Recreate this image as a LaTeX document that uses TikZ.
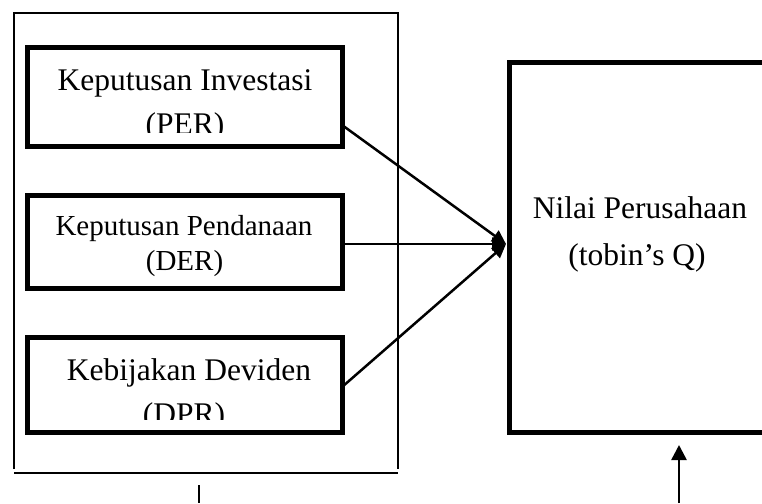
\documentclass[tikz,border=0pt]{standalone}
\usepackage{fontspec}
\setmainfont{Liberation Serif}
\usetikzlibrary{arrows.meta}
\begin{document}
\begin{tikzpicture}[x=1pt,y=-1pt,
  varbox/.style={draw,line width=5pt,minimum width=315pt,inner sep=0pt},
  bigtext/.style={font=\fontsize{31.5}{38}\selectfont,anchor=base,inner sep=0pt},
  midtext/.style={font=\fontsize{29}{35}\selectfont,anchor=base,inner sep=0pt},
  conn/.style={line width=2.5pt,-{Triangle[length=14pt,width=13pt]}},
  outline/.style={line width=1.6pt}]
\clip (0,0) rectangle (762,503);
\useasboundingbox (0,0) rectangle (762,503);
% outer group frame
\draw[outline] (14,469) -- (14,13) -- (398,13) -- (398,469);
\coordinate (gl) at (14,473);
\coordinate (gr) at (398,473);
\draw[outline] (gl) -- (gr);
% left boxes
\node[varbox,minimum height=98pt] (b1) at (184.5,97) {};
\node[varbox,minimum height=93pt] (b2) at (184.5,241.5) {};
\node[varbox,minimum height=95pt] (b3) at (184.5,384.5) {};
\begin{scope}
\clip (27,48) rectangle (342,132);
\node[bigtext] (t1a) at (185,90) {Keputusan Investasi};
\node[bigtext] (t1b) at (185,134) {(PER)};
\end{scope}
\node[midtext] (t2a) at (184,235) {Keputusan Pendanaan};
\node[midtext] (t2b) at (184.5,270) {(DER)};
\begin{scope}
\clip (27,337) rectangle (342,419);
\node[bigtext] (t3a) at (189,380) {Kebijakan Deviden};
\node[bigtext] (t3b) at (184,424) {(DPR)};
\end{scope}
% right box
\node[draw,line width=5pt,minimum width=300pt,minimum height=370pt,inner sep=0pt] (nv) at (659.5,247) {};
\node[bigtext] (t4a) at (640,218) {Nilai Perusahaan};
\node[bigtext] (t4b) at (637,265) {(tobin’s Q)};
% connectors
\coordinate (s1) at (342,125);
\coordinate (s2) at (342,244);
\coordinate (s3) at (342,387);
\coordinate (tg) at (506,244);
\draw[conn] (s1) -- (tg);
\draw[conn] (s2) -- (tg);
\draw[conn] (s3) -- (tg);
% bottom lines
\coordinate (vl1) at (199,485);
\coordinate (vl2) at (199,503);
\draw[line width=2.5pt] (vl1) -- (vl2);
\coordinate (ab) at (679,503);
\coordinate (at) at (679,445);
\draw[line width=2.5pt,-{Triangle[length=15pt,width=15pt]}] (ab) -- (at);
\end{tikzpicture}
\end{document}
